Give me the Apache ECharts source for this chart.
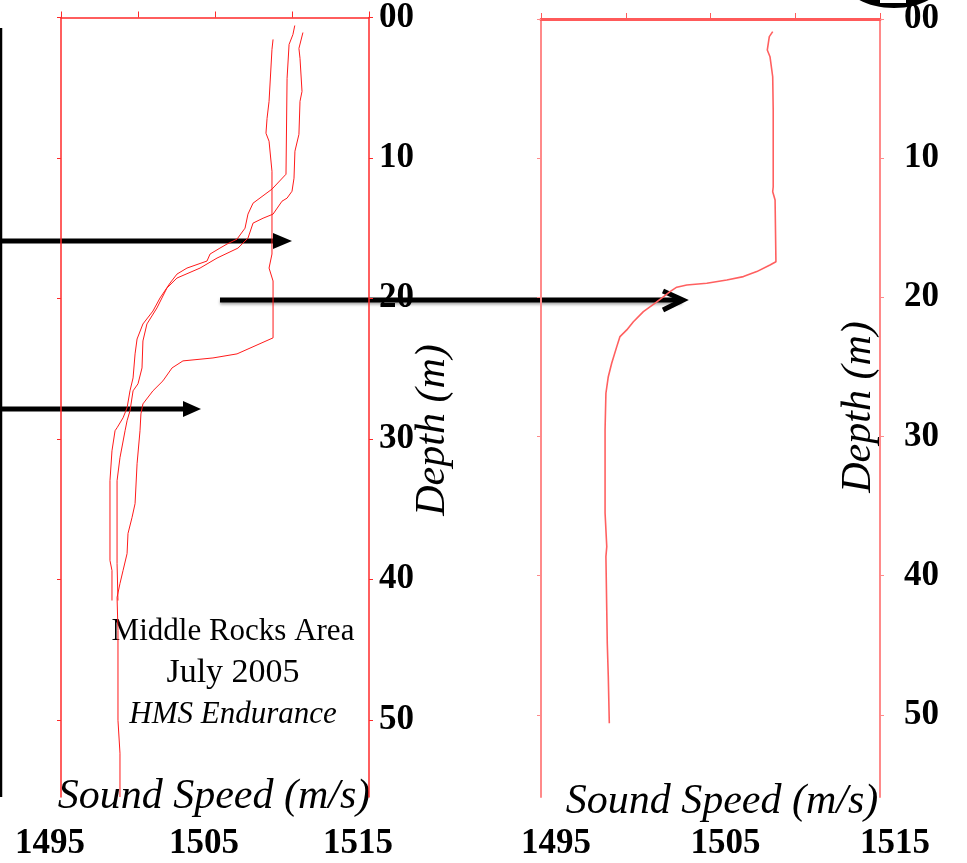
<!DOCTYPE html>
<html>
<head>
<meta charset="utf-8">
<script src="https://cdn.jsdelivr.net/npm/echarts@6/dist/echarts.min.js"></script>
<style>html,body{margin:0;padding:0;background:#fff;}#c{width:967px;height:863px;}</style>
</head>
<body>
<div id="c"></div>
<script>
// ---- data ----
const depthTicks = [0, 10, 20, 30, 40, 50];
const speedTicks = [1495, 1505, 1515];
const speedMin = 1495, speedMax = 1515;

// Left panel: three profiles [sound speed m/s, depth m]
const leftProfileA = [
  [1510.18,0.57],[1510.06,1.21],[1509.81,1.92],[1509.68,4.34],[1509.61,11.16],[1508.70,12.22],
  [1507.47,13.22],[1507.14,14.00],[1506.95,15.00],[1506.43,15.78],[1505.78,16.13],[1505.32,16.42],
  [1504.68,16.84],[1504.48,17.34],[1503.18,17.84],[1502.53,18.27],[1502.08,18.91],[1501.43,19.97],
  [1500.97,20.90],[1500.32,21.82],[1499.94,22.89],[1499.81,23.95],[1499.68,25.66],[1499.48,26.58],
  [1499.29,27.79],[1499.03,28.50],[1498.64,29.21],[1498.51,29.42],[1498.31,30.85],[1498.18,32.98],
  [1498.18,38.66],[1498.31,39.37],[1498.31,41.51]
];
const leftProfileB = [
  [1508.77,1.56],[1508.70,2.27],[1508.51,5.97],[1508.38,7.18],[1508.31,8.24],[1508.51,8.81],
  [1508.70,10.95],[1508.70,16.84],[1508.51,17.84],[1508.77,18.76],[1508.77,22.81],[1506.43,23.95],
  [1504.87,24.24],[1502.92,24.45],[1502.21,24.95],[1501.62,25.87],[1500.97,26.58],[1500.32,27.51],
  [1500.19,28.22],[1500.13,29.42],[1499.94,31.77],[1499.81,34.61],[1499.61,35.61],[1499.35,36.74],
  [1499.29,38.17],[1499.03,39.37],[1498.83,40.30],[1498.64,41.29],[1498.70,43.64],[1498.70,50.04],
  [1498.83,52.38],[1498.83,55.5]
];
const leftProfileC = [
  [1510.71,1.07],[1510.65,1.21],[1510.45,2.20],[1510.52,2.91],[1510.65,5.26],[1510.52,5.97],
  [1510.45,8.32],[1510.19,9.52],[1510.13,11.44],[1510.00,12.37],[1509.68,12.86],[1509.35,13.08],
  [1508.77,14.00],[1508.12,14.29],[1507.47,14.64],[1507.14,15.71],[1506.49,16.42],[1505.13,17.13],
  [1504.03,17.84],[1502.53,18.55],[1501.88,19.26],[1501.23,20.68],[1500.58,21.82],[1500.32,23.03],
  [1500.26,24.95],[1500.00,26.08],[1499.68,26.58],[1499.48,28.00],[1499.29,28.71],[1499.16,29.42],
  [1498.83,31.34],[1498.64,32.98],[1498.64,38.88],[1498.70,41.51]
];
// Right panel: one profile
const rightProfile = [
  [1508.67,0.91],[1508.47,1.27],[1508.35,2.23],[1508.51,2.71],[1508.67,4.15],[1508.70,6.54],
  [1508.70,12.05],[1508.67,12.41],[1508.81,13.00],[1508.86,17.44],[1508.51,17.67],[1507.73,18.15],
  [1506.94,18.51],[1505.96,18.75],[1504.78,18.99],[1503.60,19.11],[1503.01,19.27],[1502.61,19.59],
  [1502.12,20.06],[1501.73,20.42],[1501.04,21.03],[1500.45,21.75],[1500.06,22.34],[1499.66,22.82],
  [1499.47,23.54],[1499.17,24.73],[1498.97,25.70],[1498.83,26.89],[1498.78,29.53],[1498.78,35.49],
  [1498.88,37.91],[1498.83,38.63],[1498.91,44.85],[1498.97,47.25],[1499.03,50.60]
];

// ---- chart ----
const serif = '"Liberation Serif", "DejaVu Serif", serif';
const chart = echarts.init(document.getElementById('c'), null, {renderer: 'canvas'});

function topAxis(grid, color, width) {
  return {
    gridIndex: grid, type: 'value', position: 'top', min: speedMin, max: speedMax, interval: 5,
    axisLine: {show: true, lineStyle: {color: color, width: width}},
    axisTick: {show: true, length: 6, lineStyle: {color: color, width: 1}},
    axisLabel: {show: false}, splitLine: {show: false}
  };
}
function bottomAxis(grid, pad) {
  return {
    gridIndex: grid, type: 'value', position: 'bottom', min: speedMin, max: speedMax,
    axisLine: {show: false}, axisTick: {show: false}, splitLine: {show: false},
    axisLabel: {show: true, customValues: speedTicks, margin: 29, fontFamily: serif, fontWeight: 'bold',
      fontSize: 35, color: '#000', padding: pad, formatter: v => String(v)}
  };
}
function sideAxis(grid, pos, color, width, showLabel, margin, maxD) {
  return {
    gridIndex: grid, type: 'value', position: pos, inverse: true, min: 0, max: maxD,
    axisLine: {show: true, lineStyle: {color: color, width: width}},
    axisTick: {show: true, customValues: depthTicks, length: 4, lineStyle: {color: color}},
    splitLine: {show: false},
    axisLabel: {show: showLabel, customValues: depthTicks, margin: margin, fontFamily: serif, fontWeight: 'bold',
      fontSize: 35, color: '#000', formatter: v => (v === 0 ? '00' : String(v))}
  };
}

const leftRed = '#ff2a2a', rightRed = '#ff8a8a';
const option = {
  animation: false,
  backgroundColor: '#ffffff',
  grid: [
    {left: 61, top: 16, width: 308, height: 781},
    {left: 541, top: 19, width: 339, height: 778}
  ],
  xAxis: [
    topAxis(0, leftRed, 1.5), bottomAxis(0, [0, 22, 0, 0]),
    topAxis(1, '#ff5a5a', 3), bottomAxis(1, [0, 0, 0, 30])
  ],
  yAxis: [
    sideAxis(0, 'left', leftRed, 1.5, false, 8, 55.5), sideAxis(0, 'right', leftRed, 1.5, true, 10, 55.5),
    sideAxis(1, 'left', rightRed, 2, false, 8, 55.9), sideAxis(1, 'right', rightRed, 2, true, 24, 55.9)
  ],
  series: [
    {type: 'line', xAxisIndex: 0, yAxisIndex: 0, data: leftProfileA, showSymbol: false, lineStyle: {color: '#ff1a1a', width: 1}},
    {type: 'line', xAxisIndex: 0, yAxisIndex: 0, data: leftProfileB, showSymbol: false, lineStyle: {color: '#ff1a1a', width: 1}},
    {type: 'line', xAxisIndex: 0, yAxisIndex: 0, data: leftProfileC, showSymbol: false, lineStyle: {color: '#ff1a1a', width: 1}},
    {type: 'line', xAxisIndex: 2, yAxisIndex: 2, data: rightProfile, showSymbol: false, lineStyle: {color: '#ff6060', width: 1.6}}
  ],
  graphic: [
    // left black vertical line
    {type: 'line', shape: {x1: 1, y1: 28, x2: 1, y2: 797}, style: {stroke: '#000', lineWidth: 2.5}},
    // arrow 1
    {type: 'line', shape: {x1: 0, y1: 241, x2: 276, y2: 241}, style: {stroke: '#000', lineWidth: 5}},
    {type: 'polygon', shape: {points: [[273, 233], [292, 241], [273, 249]]}, style: {fill: '#000'}},
    // arrow 2
    {type: 'line', shape: {x1: 0, y1: 409, x2: 185, y2: 409}, style: {stroke: '#000', lineWidth: 5}},
    {type: 'polygon', shape: {points: [[183, 401], [201, 409], [183, 417]]}, style: {fill: '#000'}},
    // arrow 3 (open chevron)
    {type: 'line', shape: {x1: 220, y1: 300, x2: 682, y2: 300}, style: {stroke: '#000', lineWidth: 5, shadowBlur: 3, shadowColor: 'rgba(0,0,0,0.35)', shadowOffsetY: 2}},
    {type: 'polyline', shape: {points: [[663, 291], [683, 300], [663, 310]]}, style: {stroke: '#000', lineWidth: 5, fill: null}},
    // top-right black ellipse fragment
    {type: 'ellipse', shape: {cx: 894, cy: -18, rx: 48, ry: 26}, style: {fill: '#000'}},
    {type: 'rect', shape: {x: 880, y: -2, width: 26, height: 5}, style: {fill: '#fff'}},
    // annotation text
    {type: 'text', x: 233, y: 632, style: {text: 'Middle Rocks Area', font: '31px ' + serif, fill: '#000', align: 'center', verticalAlign: 'middle'}},
    {type: 'text', x: 233, y: 673, style: {text: 'July 2005', font: '34px ' + serif, fill: '#000', align: 'center', verticalAlign: 'middle'}},
    {type: 'text', x: 233, y: 715, style: {text: 'HMS Endurance', font: 'italic 31px ' + serif, fill: '#000', align: 'center', verticalAlign: 'middle'}},
    // axis titles
    {type: 'text', x: 214, y: 797, style: {text: 'Sound Speed (m/s)', font: 'italic 42px ' + serif, fill: '#000', align: 'center', verticalAlign: 'middle'}},
    {type: 'text', x: 722, y: 802, style: {text: 'Sound Speed (m/s)', font: 'italic 42px ' + serif, fill: '#000', align: 'center', verticalAlign: 'middle'}},
    {type: 'text', x: 433, y: 430, rotation: Math.PI / 2, style: {text: 'Depth (m)', font: 'italic 42px ' + serif, fill: '#000', align: 'center', verticalAlign: 'middle'}},
    {type: 'text', x: 859, y: 407, rotation: Math.PI / 2, style: {text: 'Depth (m)', font: 'italic 42px ' + serif, fill: '#000', align: 'center', verticalAlign: 'middle'}}
  ]
};
chart.setOption(option);
</script>
</body>
</html>
